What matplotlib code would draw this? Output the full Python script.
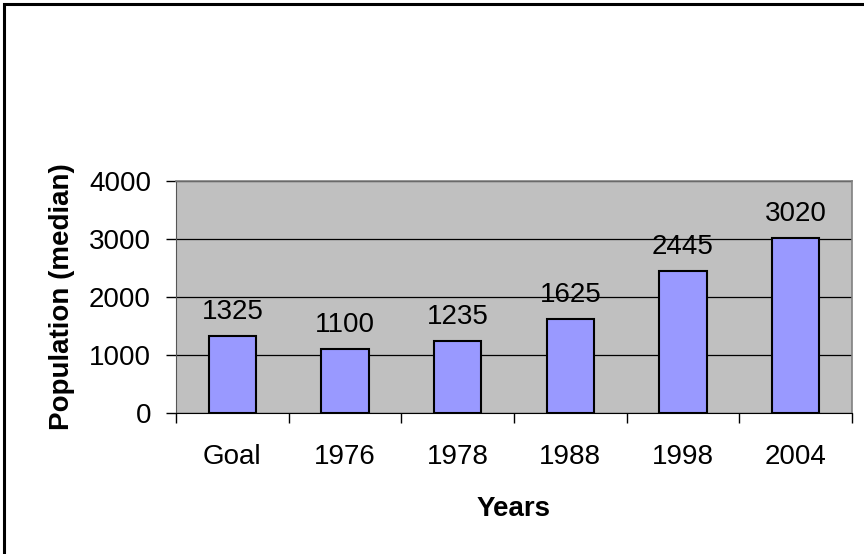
import matplotlib.pyplot as plt
import matplotlib.patches as mpatches
import numpy as np

plt.rcParams['font.family'] = ['Liberation Sans', 'DejaVu Sans']

# data
categories = ['Goal', '1976', '1978', '1988', '1998', '2004']
population = [1325, 1100, 1235, 1625, 2445, 3020]
y_ticks = [0, 1000, 2000, 3000, 4000]

dpi = 100
fig = plt.figure(figsize=(864 / dpi, 554 / dpi), dpi=dpi)
ax = fig.add_axes([176 / 864, 1 - 413 / 554, (852 - 176) / 864, (413 - 181) / 554])

x = np.arange(len(categories))
ax.set_facecolor('#C0C0C0')
ax.bar(x, population, width=0.42, color='#9999FF', edgecolor='black', linewidth=1.5, zorder=3)

for xi, v in zip(x, population):
    ax.annotate(str(v), (xi, v), xytext=(0, 8), textcoords='offset points',
                ha='center', va='bottom', fontsize=20)

ax.set_xlim(-0.5, len(categories) - 0.5)
ax.set_ylim(0, 4000)
ax.set_yticks(y_ticks)
ax.yaxis.grid(True, color='black', linewidth=0.9, zorder=1)
ax.set_axisbelow(True)

# category ticks sit at the boundaries, labels centred on bars
ax.set_xticks(np.arange(len(categories) + 1) - 0.5)
ax.set_xticklabels([])
ax.set_xticks(x, minor=True)
ax.set_xticklabels(categories, minor=True)
ax.tick_params(axis='x', which='major', length=7, width=1, color='black')
ax.tick_params(axis='x', which='minor', length=0, pad=22, labelsize=20)
ax.tick_params(axis='y', length=7, width=1, pad=11, labelsize=20)

for s in ['top', 'right']:
    ax.spines[s].set_color('#808080')
    ax.spines[s].set_linewidth(1.2)
ax.spines['left'].set_color('#555555')
ax.spines['bottom'].set_color('black')

ax.set_ylabel('Population (median)', fontsize=20, fontweight='bold', labelpad=10)
ax.set_xlabel('Years', fontsize=20, fontweight='bold', labelpad=19)

# outer chart border (runs off the right and bottom edges)
fig.patches.append(mpatches.Rectangle((4 / 864, -0.05), 1.1, 1 - 4 / 554 + 0.05,
                                      transform=fig.transFigure, fill=False,
                                      edgecolor='black', linewidth=2.2))

plt.savefig('out.png', dpi=dpi)
